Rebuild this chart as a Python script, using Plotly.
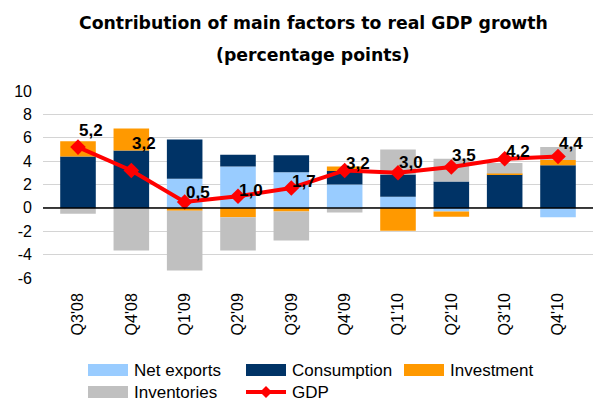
import plotly.graph_objects as go

# ---------------- data ----------------
quarters = ["Q3'08", "Q4'08", "Q1'09", "Q2'09", "Q3'09",
            "Q4'09", "Q1'10", "Q2'10", "Q3'10", "Q4'10"]
net_exports = [0.0, -0.05, 2.5, 3.55, 3.05, 2.0, 0.95, -0.3, 0.0, -0.8]
consumption = [4.4, 4.9, 3.35, 1.0, 1.45, 1.15, 1.9, 2.25, 2.85, 3.65]
investment = [1.3, 1.9, -0.25, -0.8, -0.3, 0.4, -1.95, -0.45, 0.1, 0.45]
inventories = [-0.5, -3.6, -5.1, -2.85, -2.5, -0.4, 2.15, 1.95, 0.9, 1.1]
gdp = [5.2, 3.2, 0.5, 1.0, 1.7, 3.2, 3.0, 3.5, 4.2, 4.4]
gdp_labels = [f"{v:.1f}".replace(".", ",") for v in gdp]
y_tick_vals = [-6, -4, -2, 0, 2, 4, 6, 8, 10]
y_tick_text = ["-6", "-4", "-2", "0", "2", "4", "6", "8", "10"]

# label placement offsets (pixels, styling only)
label_dx = 13
label_dy = [17, 27, 10, 6, 7, 7, 10, 11, 7, 13]

# ---------------- layout geometry ----------------
W, H = 594, 403
ML, MR, MT, MB = 43, 1, 91, 125
PW, PH = W - ML - MR, H - MT - MB


def px(x):
    return (x - ML) / PW


def py(y):
    return (H - MB - y) / PH


C_NX, C_CONS, C_INV, C_INVT, C_GDP = "#99CCFF", "#003366", "#FF9900", "#C0C0C0", "#FF0000"
FONT = "Liberation Sans, Arial, sans-serif"

fig = go.Figure()
for name, vals, col in [("Net exports", net_exports, C_NX),
                        ("Consumption", consumption, C_CONS),
                        ("Investment", investment, C_INV),
                        ("Inventories", inventories, C_INVT)]:
    fig.add_trace(go.Bar(name=name, x=quarters, y=vals, marker_color=col,
                         marker_line_width=0, showlegend=False))

fig.add_trace(go.Scatter(
    name="GDP", x=quarters, y=gdp, mode="lines+markers",
    line=dict(color=C_GDP, width=4),
    marker=dict(symbol="diamond", size=12, color=C_GDP),
    cliponaxis=False, showlegend=False))

shapes = [dict(type="line", xref="paper", x0=0, x1=1, yref="y", y0=0, y1=0,
               line=dict(color="black", width=1.5), layer="above")]
annotations = []

# GDP data labels, anchored at the data points
for q, v, t, dy in zip(quarters, gdp, gdp_labels, label_dy):
    annotations.append(dict(text=t, x=q, y=v, xref="x", yref="y", showarrow=False,
                            xanchor="center", yanchor="middle",
                            xshift=label_dx, yshift=dy,
                            font=dict(family=FONT, size=17, color="black", weight="bold")))

# title (two lines)
for txt, yy in [("Contribution of main factors to real GDP growth", 23),
                ("(percentage points)", 55)]:
    annotations.append(dict(text=txt, xref="paper", yref="paper", x=px(313), y=py(yy),
                            xanchor="center", yanchor="middle", showarrow=False,
                            font=dict(family="DejaVu Sans, sans-serif", size=17.3,
                                      color="black", weight="bold")))

# legend (custom, two rows)
R1, R2 = 370, 392
legend_items = [("Net exports", C_NX, 88, R1, "bar"),
                ("Consumption", C_CONS, 246, R1, "bar"),
                ("Investment", C_INV, 404, R1, "bar"),
                ("Inventories", C_INVT, 88, R2, "bar"),
                ("GDP", C_GDP, 246, R2, "line")]
for name, col, x0, yc, kind in legend_items:
    if kind == "bar":
        shapes.append(dict(type="rect", xref="paper", yref="paper",
                           x0=px(x0), x1=px(x0 + 40), y0=py(yc + 6), y1=py(yc - 6),
                           fillcolor=col, line_width=0))
    else:
        shapes.append(dict(type="line", xref="paper", yref="paper",
                           x0=px(x0), x1=px(x0 + 40), y0=py(yc), y1=py(yc),
                           line=dict(color=col, width=4)))
        cx = x0 + 20
        d = 6
        path = (f"M{px(cx - d)},{py(yc)} L{px(cx)},{py(yc - d)} "
                f"L{px(cx + d)},{py(yc)} L{px(cx)},{py(yc + d)} Z")
        shapes.append(dict(type="path", xref="paper", yref="paper", path=path,
                           fillcolor=col, line_width=0))
    annotations.append(dict(text=name, xref="paper", yref="paper",
                            x=px(x0 + 44), y=py(yc), xanchor="left", yanchor="middle",
                            showarrow=False,
                            font=dict(family=FONT, size=17, color="black")))

fig.update_layout(
    width=W, height=H,
    margin=dict(l=ML, r=MR, t=MT, b=MB, autoexpand=False),
    barmode="relative", bargap=0.333,
    plot_bgcolor="white", paper_bgcolor="white",
    showlegend=False,
    shapes=shapes, annotations=annotations,
    xaxis=dict(tickangle=-90, showgrid=False, zeroline=False, showline=False,
               tickfont=dict(family=FONT, size=16, color="black"),
               ticklabelstandoff=11, fixedrange=True),
    yaxis=dict(range=[-6, 10], tickvals=y_tick_vals, ticktext=y_tick_text,
               showgrid=True, gridcolor="#D4D4D4",
               gridwidth=1, zeroline=False, showline=False,
               tickfont=dict(family=FONT, size=16, color="black"),
               ticklabelstandoff=10, fixedrange=True),
)

fig.write_html("out.html")
